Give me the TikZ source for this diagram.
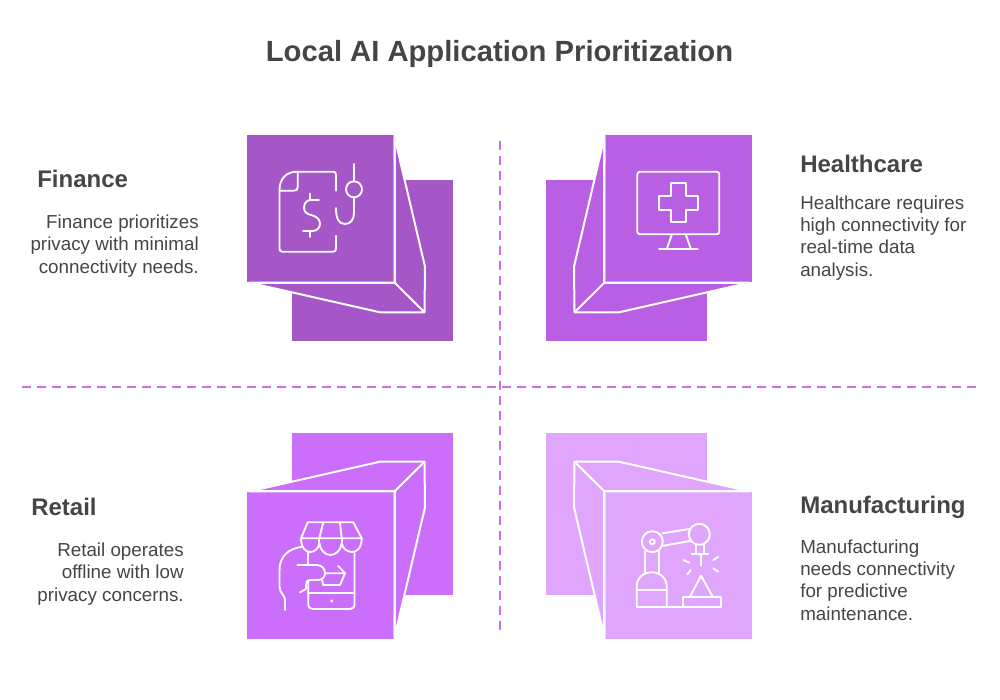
\documentclass[tikz,border=0pt]{standalone}
\usepackage{fontspec}
\setmainfont{Liberation Sans}
\usepackage{xcolor}
\usetikzlibrary{positioning}
\definecolor{financec}{HTML}{A556C7}
\definecolor{healthc}{HTML}{B85FE3}
\definecolor{retailc}{HTML}{CB6EFB}
\definecolor{manufc}{HTML}{E0A6FD}
\definecolor{dashc}{HTML}{CB6EF5}
\definecolor{textc}{HTML}{454545}
\newcommand{\cubeshape}[1]{
	\fill [#1] (291.7,179.5) rectangle (453.3,341);
	\fill [#1] (247.3,135) rectangle (393.7,281.7);
	\filldraw [fill=#1, cubeline] (394.7,137.7) -- (425,266.7) -- (424.5,312.3) -- (380,312.3) -- (249.5,282.7) -- (395,282.7) -- cycle;
	\draw [cubeline] (394.7,135) -- (394.7,282.7) -- (424.5,312.3);
	\draw [cubeline] (247.3,282.7) -- (394.7,282.7);
}
\begin{document}
\begin{tikzpicture}[x=0.75pt,y=-0.75pt]
	\tikzstyle{cubeline}=[draw=white, line width=1.5pt, line join=round]
	\tikzstyle{iconline}=[draw=white, line width=1.4pt, line cap=round, line join=round]
	\tikzstyle{divider}=[draw=dashc, line width=1.5pt, dash pattern=on 6.75pt off 4.5pt]
	\tikzstyle{every node}=[text=textc, inner sep=0pt]
	\tikzstyle{headtext}=[font=\fontsize{18}{22}\selectfont\bfseries]
	\tikzstyle{bodytext}=[font=\fontsize{14.1}{16.7}\selectfont]
	\useasboundingbox (0,0) rectangle (1000,700);

	\draw (499.5,53.5) node (title) [font=\fontsize{21.9}{26}\selectfont\bfseries]{Local AI Application Prioritization};

	\coordinate (hleft) at (22,386.5);
	\coordinate (hright) at (978,386.5);
	\coordinate (vtop) at (499.7,141);
	\coordinate (vbottom) at (499.7,632);
	\draw [divider] (hleft) -- (hright);
	\draw [divider] (vtop) -- (vbottom);

	\cubeshape{financec}
	\begin{scope}[shift={(999,0)},xscale=-1]
		\cubeshape{healthc}
	\end{scope}
	\begin{scope}[shift={(0,774)},yscale=-1]
		\cubeshape{retailc}
	\end{scope}
	\begin{scope}[shift={(999,774)},xscale=-1,yscale=-1]
		\cubeshape{manufc}
	\end{scope}

	\draw (37,179) node (financehead) [headtext, anchor=west]{Finance};
	\draw (199,246) node (financetext) [bodytext, anchor=east, align=right]{Finance prioritizes\\privacy with minimal\\connectivity needs.};
	\draw (800,164) node (healthhead) [headtext, anchor=west]{Healthcare};
	\draw (800,238) node (healthtext) [bodytext, anchor=west, align=left]{Healthcare requires\\high connectivity for\\real-time data\\analysis.};
	\draw (31,507) node (retailhead) [headtext, anchor=west]{Retail};
	\draw (184,574) node (retailtext) [bodytext, anchor=east, align=right]{Retail operates\\offline with low\\privacy concerns.};
	\draw (800,507) node (manufhead) [headtext, anchor=west]{Manufacturing};
	\draw (800,580) node (manuftext) [bodytext, anchor=west, align=left]{Manufacturing\\needs connectivity\\for predictive\\maintenance.};

	\draw [iconline] (336,190.7) -- (336,174.5) .. controls (336,172.5) and (335,171.7) .. (333,171.7) -- (297,171.7) .. controls (286,171.7) and (279.5,179) .. (279.5,190) -- (279.5,248.7) .. controls (279.5,250.7) and (280.5,251.7) .. (282.5,251.7) -- (333,251.7) .. controls (335,251.7) and (336,250.7) .. (336,248.7) -- (336,235.7);
	\draw [iconline] (297.7,171.7) -- (297.7,187) .. controls (297.7,189.5) and (296.5,190.7) .. (294,190.7) -- (279.5,190.7);
	\draw [iconline] (319,200) -- (311,200) .. controls (306,200) and (304,204) .. (304,208) .. controls (304,212) and (307,214) .. (311,215) .. controls (316,216) and (320,219) .. (320,223.5) .. controls (320,228) and (317,231) .. (312,231) -- (303,231);
	\draw [iconline] (310,193.5) -- (310,200);
	\draw [iconline] (310,231) -- (310,237);
	\draw [iconline] (354,164) -- (354,181.3);
	\draw [iconline] (354,189.3) circle (8);
	\draw [iconline] (354,197.3) -- (354,213) .. controls (354,219) and (351,224) .. (345,224) .. controls (339,224) and (336,219) .. (336,208);

	\draw [iconline, rounded corners=2pt] (637.3,171.7) rectangle (719.3,234.3);
	\draw [iconline] (671.7,235) -- (666.7,249.3);
	\draw [iconline] (686,235) -- (691,249.3);
	\draw [iconline] (659,249.3) -- (697.7,249.3);
	\draw [iconline] (670.7,183.3) -- (686,183.3) -- (686,196) -- (697.7,196) -- (697.7,210) -- (686,210) -- (686,222.3) -- (670.7,222.3) -- (670.7,210) -- (659,210) -- (659,196) -- (670.7,196) -- cycle;

	\draw [iconline] (307.7,522.3) -- (353.3,522.3) -- (361.7,538.3) -- (301,538.3) -- cycle;
	\draw [iconline] (323.3,522.3) -- (319.3,538.3);
	\draw [iconline] (340,522.3) -- (341.7,538.3);
	\draw [iconline] (301,538.3) .. controls (301,548) and (306,552) .. (310,552) .. controls (315,552) and (319,548) .. (319.3,543) .. controls (320,550) and (325,555) .. (330.5,555) .. controls (336,555) and (341,550) .. (341.7,543) .. controls (342,548) and (347,552) .. (352,552) .. controls (357,552) and (361.7,548) .. (361.7,538.3);
	\draw [iconline] (319.3,538.3) -- (319.3,543);
	\draw [iconline] (341.7,538.3) -- (341.7,543);
	\draw [iconline] (308.3,552.3) -- (308.3,565);
	\draw [iconline] (354.5,553) -- (354.5,604) .. controls (354.5,607.5) and (352.5,609) .. (350,609) -- (313,609) .. controls (310,609) and (308.3,607.5) .. (308.3,604) -- (308.3,581.7);
	\draw [iconline] (308.3,593.3) -- (354.5,593.3);
	\fill [white] (331.7,601) circle (1.6);
	\draw [iconline] (303.3,546.7) .. controls (289,548) and (279.5,556) .. (279.5,570) -- (279.5,586.7) .. controls (279.5,593) and (285,595) .. (285,600) -- (285,610);
	\draw [iconline] (297.3,565) -- (316.7,565) .. controls (322,565) and (325,569) .. (325,573.3) .. controls (325,577) and (322,580) .. (318,580) -- (310,580) .. controls (307,580) and (306,582) .. (306,585) -- (306,589) -- (300,592.3);
	\draw [iconline] (326,573.3) -- (345,573.3) -- (340,585) -- (323.3,585) -- (322,580);
	\draw [iconline] (338.3,566) -- (345,573.3);

	\draw [iconline] (636.7,606.7) -- (720.7,606.7) -- (720.7,596.7) -- (683.3,596.7) -- (683.3,606.7);
	\draw [iconline] (690,596.7) -- (701,575.7) -- (712.7,596.7);
	\draw [iconline] (636.7,606.7) -- (636.7,586.7) .. controls (636.7,578) and (643,572.3) .. (651.7,572.3) .. controls (660,572.3) and (666.7,578) .. (666.7,586.7) -- (666.7,606.7);
	\draw [iconline] (636.7,590) -- (666.7,590);
	\draw [iconline] (645,551.7) -- (645,574);
	\draw [iconline] (659.3,551.7) -- (659.3,574);
	\draw [iconline] (652.3,541.7) circle (10.5);
	\draw [iconline] (652.3,541.7) circle (2.5);
	\draw [iconline] (662.3,533.3) -- (689.3,529);
	\draw [iconline] (663.3,545.7) -- (690,541);
	\draw [iconline] (699.3,534.3) circle (10.5);
	\draw [iconline] (695.7,544.3) -- (695.7,554.3);
	\draw [iconline] (704,544.3) -- (704,554.3);
	\draw [iconline] (691.7,554.3) -- (708.3,554.3);
	\draw [iconline] (700.7,554.3) -- (700.7,565.7);
	\draw [iconline] (683.3,560) -- (689.3,562.7);
	\draw [iconline] (687.3,574.3) -- (690.7,570);
	\draw [iconline] (713.3,560) -- (718.3,556.7);
	\draw [iconline] (713.3,568.3) -- (718.3,571.7);
\end{tikzpicture}
\end{document}
